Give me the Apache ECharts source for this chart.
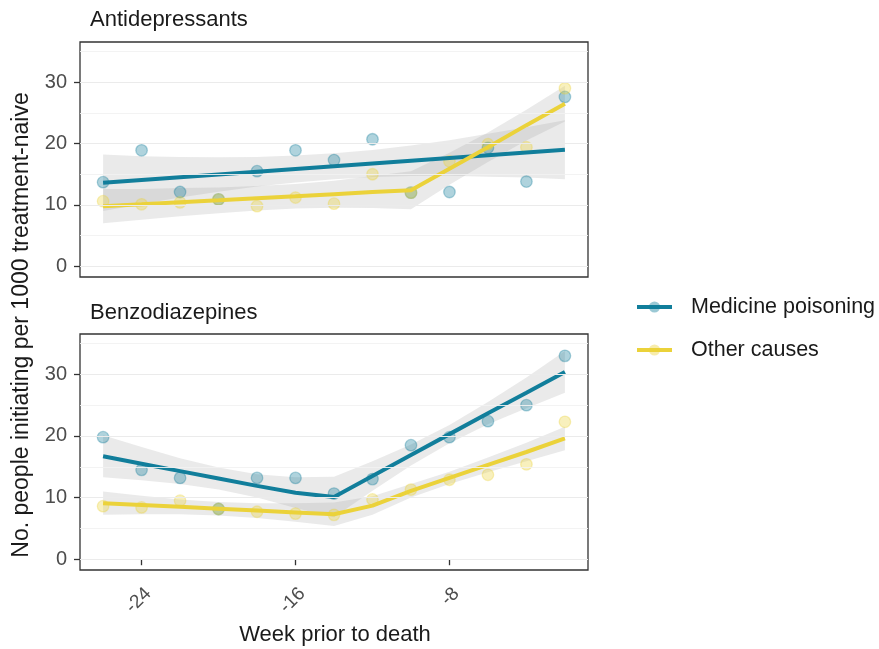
<!DOCTYPE html>
<html>
<head>
<meta charset="utf-8">
<script src="https://cdn.jsdelivr.net/npm/echarts@6/dist/echarts.min.js"></script>
<style>
html,body{margin:0;padding:0;background:#fff;}
#chart{width:879px;height:649px;}
</style>
</head>
<body>
<div id="chart"></div>
<script>
// ---- data ----
const weeks = [-26, -24, -22, -20, -18, -16, -14, -12, -10, -8, -6, -4, -2];
const xTicks = [-24, -16, -8];
const yTicks = [0, 10, 20, 30];
const yMinor = [5, 15, 25, 35];
const panelTitles = ['Antidepressants', 'Benzodiazepines'];
const seriesNames = ['Medicine poisoning', 'Other causes'];

// Antidepressants
const adMedPts = [13.7, 18.9, 12.1, 10.9, 15.5, 18.9, 17.3, 20.7, 12.0, 12.1, 19.3, 13.8, 27.6];
const adOthPts = [10.6, 10.1, 10.4, 10.9, 9.8, 11.2, 10.2, 15.0, 12.0, 17.1, 19.9, 19.4, 29.0];
const adMedFit = [13.6, 14.05, 14.5, 14.95, 15.4, 15.85, 16.3, 16.75, 17.2, 17.65, 18.1, 18.55, 19.0];
const adMedLo  = [9.0, 10.15, 11.2, 12.15, 13.0, 13.65, 14.2, 14.55, 14.7, 14.75, 14.6, 14.45, 14.2];
const adMedHi  = [18.2, 17.95, 17.8, 17.75, 17.8, 18.05, 18.4, 18.95, 19.7, 20.55, 21.6, 22.65, 23.8];
const adOthFit = [9.8, 10.1, 10.45, 10.75, 11.1, 11.4, 11.75, 12.1, 12.4, 15.9, 19.4, 23.0, 26.5];
const adOthLo  = [7.0, 7.6, 8.15, 8.65, 9.1, 9.4, 9.55, 9.5, 9.3, 13.3, 17.0, 20.5, 23.6];
const adOthHi  = [12.6, 12.6, 12.75, 12.85, 13.1, 13.4, 13.95, 14.7, 15.5, 18.5, 21.8, 25.5, 29.4];

// Benzodiazepines
const bzMedPts = [19.8, 14.5, 13.2, 8.15, 13.2, 13.2, 10.65, 13.0, 18.5, 19.8, 22.4, 25.0, 33.0];
const bzOthPts = [8.6, 8.4, 9.5, 8.15, 7.7, 7.4, 7.2, 9.7, 11.3, 12.9, 13.7, 15.4, 22.3];
const bzMedFit = [16.7, 15.5, 14.3, 13.1, 11.9, 10.8, 10.1, 13.5, 16.9, 20.3, 23.7, 27.0, 30.4];
const bzMedLo  = [13.3, 12.8, 12.2, 11.3, 10.0, 8.3, 6.8, 11.1, 15.2, 18.8, 21.9, 24.5, 27.0];
const bzMedHi  = [20.1, 18.2, 16.4, 14.9, 13.8, 13.3, 13.4, 15.9, 18.6, 21.8, 25.5, 29.5, 33.8];
const bzOthFit = [9.1, 8.8, 8.5, 8.2, 7.9, 7.6, 7.3, 8.7, 11.1, 13.2, 15.3, 17.4, 19.6];
const bzOthLo  = [7.2, 7.3, 7.3, 7.1, 6.7, 6.1, 5.4, 7.2, 10.0, 12.2, 14.1, 15.9, 17.7];
const bzOthHi  = [11.0, 10.3, 9.7, 9.3, 9.1, 9.1, 9.2, 10.2, 12.2, 14.2, 16.5, 18.9, 21.5];

// ---- styles ----
const TEAL = '#117E9B';
const YELLOW = '#EBD23A';
const TEAL_A = 'rgba(17,126,155,0.42)';
const YELLOW_A = 'rgba(235,210,58,0.42)';
const FONT = 'Liberation Sans, Arial, sans-serif';
const grids = [
  {left: 80, top: 42, width: 508, height: 235},
  {left: 80, top: 334, width: 508, height: 236}
];

function toPairs(vals) { return weeks.map((w, i) => [w, vals[i]]); }

function bandSeries(g, lo, hi) {
  return {
    type: 'custom', xAxisIndex: g, yAxisIndex: g, silent: true, z: 2,
    data: weeks.map((w, i) => [w, lo[i], hi[i]]),
    encode: {x: 0, y: [1, 2]},
    renderItem: function (params, api) {
      if (params.dataIndex !== 0) return null;
      const pts = [];
      for (let i = 0; i < weeks.length; i++) pts.push(api.coord([weeks[i], hi[i]]));
      for (let i = weeks.length - 1; i >= 0; i--) pts.push(api.coord([weeks[i], lo[i]]));
      return {type: 'polygon', shape: {points: pts}, style: {fill: 'rgba(150,150,150,0.2)'}};
    }
  };
}
function pointSeries(g, vals, colorA) {
  return {
    type: 'scatter', xAxisIndex: g, yAxisIndex: g, silent: true, z: 3,
    data: toPairs(vals), symbolSize: 11.5,
    itemStyle: {color: colorA, borderColor: colorA, borderWidth: 1.3}
  };
}
function fitSeries(g, vals, color, name) {
  return {
    type: 'line', name: name, xAxisIndex: g, yAxisIndex: g, silent: true, z: 4,
    data: toPairs(vals), showSymbol: false, symbol: 'circle', symbolSize: 10,
    lineStyle: {color: color, width: 4}, itemStyle: {color: color},
    animation: false
  };
}
function gridLines(g) {
  const data = [];
  yTicks.forEach(v => data.push({yAxis: v, lineStyle: {color: '#ebebeb', width: 1.2, type: 'solid'}}));
  yMinor.forEach(v => data.push({yAxis: v, lineStyle: {color: '#f2f2f2', width: 0.9, type: 'solid'}}));
  return {
    type: 'line', xAxisIndex: g, yAxisIndex: g, data: [], silent: true, z: 1,
    markLine: {silent: true, symbol: 'none', label: {show: false}, animation: false, data: data}
  };
}

const xAxes = [0, 1].map(g => ({
  type: 'value', gridIndex: g, min: -27.2, max: -0.8,
  axisLine: {show: false}, splitLine: {show: false},
  axisTick: {show: g === 1, customValues: xTicks, length: 6, lineStyle: {color: '#333', width: 1.3}},
  axisLabel: {show: g === 1, customValues: xTicks, rotate: 45, color: '#4d4d4d', fontSize: 19,
              fontFamily: FONT, margin: 14, verticalAlign: 'top'}
}));
const yAxes = [0, 1].map(g => ({
  type: 'value', gridIndex: g, min: -1.75, max: 36.55,
  axisLine: {show: false}, splitLine: {show: false},
  axisTick: {show: true, customValues: yTicks, length: 6, lineStyle: {color: '#333', width: 1.3}},
  axisLabel: {show: true, customValues: yTicks, color: '#4d4d4d', fontSize: 20, fontFamily: FONT, margin: 13}
}));

const chart = echarts.init(document.getElementById('chart'), null, {renderer: 'canvas'});
chart.setOption({
  animation: false,
  backgroundColor: '#fff',
  textStyle: {fontFamily: FONT},
  grid: grids.map(g => Object.assign({show: true, borderColor: '#333', borderWidth: 1.3, backgroundColor: '#fff'}, g)),
  xAxis: xAxes,
  yAxis: yAxes,
  legend: {
    orient: 'vertical', left: 630, top: 291,
    itemWidth: 35, itemHeight: 14, itemGap: 21,
    textStyle: {fontSize: 21.5, lineHeight: 22, color: '#1a1a1a', fontFamily: FONT, padding: [0, 0, 0, 14]},
    data: [
      {name: seriesNames[0], itemStyle: {color: TEAL_A}, lineStyle: {color: TEAL, width: 4}},
      {name: seriesNames[1], itemStyle: {color: YELLOW_A}, lineStyle: {color: YELLOW, width: 4}}
    ]
  },
  graphic: [
    {type: 'text', x: 90, y: 19.5, style: {text: panelTitles[0], fontSize: 22, fill: '#1a1a1a', fontFamily: FONT, verticalAlign: 'middle'}},
    {type: 'text', x: 90, y: 312.5, style: {text: panelTitles[1], fontSize: 22, fill: '#1a1a1a', fontFamily: FONT, verticalAlign: 'middle'}},
    {type: 'text', x: 335, y: 635, style: {text: 'Week prior to death', fontSize: 22, fill: '#1a1a1a', fontFamily: FONT, align: 'center', verticalAlign: 'middle'}},
    {type: 'text', x: 22, y: 325, rotation: Math.PI / 2, style: {text: 'No. people initiating per 1000 treatment-naive', fontSize: 23, fill: '#1a1a1a', fontFamily: FONT, align: 'center', verticalAlign: 'middle'}}
  ],
  series: [
    gridLines(0), gridLines(1),
    bandSeries(0, adMedLo, adMedHi), bandSeries(0, adOthLo, adOthHi),
    bandSeries(1, bzMedLo, bzMedHi), bandSeries(1, bzOthLo, bzOthHi),
    pointSeries(0, adMedPts, TEAL_A), pointSeries(0, adOthPts, YELLOW_A),
    pointSeries(1, bzMedPts, TEAL_A), pointSeries(1, bzOthPts, YELLOW_A),
    fitSeries(0, adMedFit, TEAL, seriesNames[0]), fitSeries(0, adOthFit, YELLOW, seriesNames[1]),
    fitSeries(1, bzMedFit, TEAL, seriesNames[0]), fitSeries(1, bzOthFit, YELLOW, seriesNames[1])
  ]
});
</script>
</body>
</html>
